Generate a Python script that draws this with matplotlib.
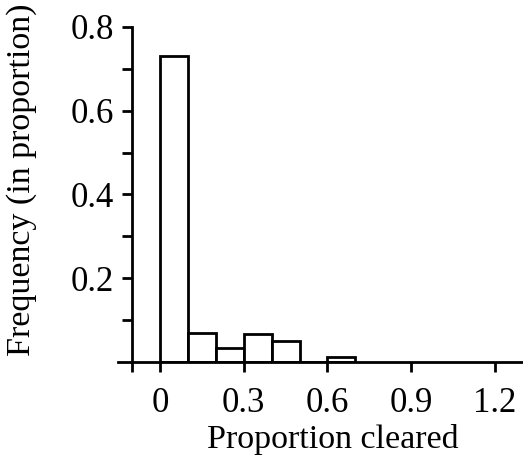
import matplotlib
matplotlib.use("Agg")
import matplotlib.pyplot as plt
from matplotlib.ticker import FixedLocator

bin_edges = [0.0, 0.1, 0.2, 0.3, 0.4, 0.5, 0.6, 0.7]
frequencies = [0.73, 0.07, 0.033, 0.068, 0.051, 0.0, 0.013]
xtick_values = [0, 0.3, 0.6, 0.9, 1.2]
xtick_labels = ["0", "0.3", "0.6", "0.9", "1.2"]
ytick_values = [0.2, 0.4, 0.6, 0.8]
ytick_labels = ["0.2", "0.4", "0.6", "0.8"]

plt.rcParams['font.family'] = ['Liberation Serif', 'DejaVu Serif']
fig = plt.figure(figsize=(5.23, 4.66), dpi=100)
ax = fig.add_axes([0.2256, 0.2232, 0.7744, 0.719])

lw = 2.0
widths = [bin_edges[i + 1] - bin_edges[i] for i in range(len(frequencies))]
ax.bar(bin_edges[:-1], frequencies, width=widths, align='edge',
       facecolor='white', edgecolor='black', linewidth=lw, zorder=2)

ax.set_xlim(-0.15, 1.3)
ax.set_ylim(0, 0.8)
for s in ['top', 'right']:
    ax.spines[s].set_visible(False)
ax.spines['left'].set_position(('data', -0.1))
ax.spines['left'].set_bounds(0, 0.8)
ax.spines['left'].set_linewidth(lw)
ax.spines['bottom'].set_linewidth(lw)

ax.xaxis.set_major_locator(FixedLocator([-0.1] + xtick_values))
ax.set_xticklabels([""] + xtick_labels)
ax.set_yticks(ytick_values)
ax.set_yticklabels(ytick_labels)
ax.yaxis.set_minor_locator(FixedLocator([0.1, 0.3, 0.5, 0.7]))

ax.tick_params(axis='both', which='both', direction='out', width=lw, length=7,
               labelsize=25, color='black')
ax.tick_params(axis='x', pad=11)
ax.tick_params(axis='y', pad=6)

ax.set_xlabel("Proportion cleared", fontsize=24.5)
ax.xaxis.set_label_coords(0.53, -0.185)
ax.set_ylabel("Frequency (in proportion)", fontsize=24.5)
ax.yaxis.set_label_coords(-0.2, 0.543)

fig.savefig("out.png", dpi=100)
